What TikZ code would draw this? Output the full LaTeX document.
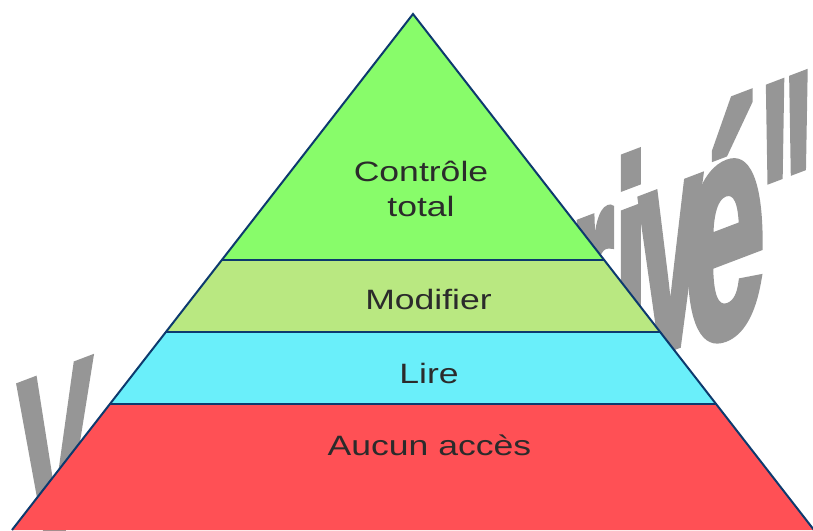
\documentclass[tikz,border=0pt]{standalone}
\usepackage{fontspec}
\setmainfont{Liberation Sans}
\newfontfamily\wmfont{Liberation Sans}[BoldFeatures={FakeBold=3}]
\usetikzlibrary{calc}
\definecolor{wmgray}{RGB}{150,150,150}
\definecolor{pgreen}{RGB}{136,252,106}
\definecolor{plgreen}{RGB}{185,232,129}
\definecolor{pcyan}{RGB}{106,239,250}
\definecolor{pred}{RGB}{255,80,85}
\definecolor{pline}{RGB}{13,58,110}
\definecolor{ptext}{RGB}{43,43,43}
\begin{document}
\begin{tikzpicture}[x=1pt,y=-1pt,
  wm/.style={text=wmgray, font=\wmfont\fontsize{100}{100}\selectfont\bfseries, inner sep=0pt, anchor=base west, yslant=0.38},
  lbl/.style={text=ptext, font=\fontsize{28}{35}\selectfont, inner sep=0pt, xscale=1.27, align=center},
  bandline/.style={draw=pline, line width=1.5pt},
  outline/.style={draw=pline, line width=2pt, line join=miter}]
\useasboundingbox (0,0) rectangle (813,530);
% watermark
\node[wm, xscale=1.12, yscale=2.42] (wV) at (17.5,553) {V};
\node[wm, xscale=1.1, yscale=3.0] (wr) at (571,385) {r};
\node[wm, xscale=1.2, yscale=2.85] (wi) at (614,368) {i};
\node[wm, xscale=1.13, yscale=3.0] (wv) at (639,359) {v};
\node[wm, xscale=1.46, yscale=3.15] (we) at (684,350) {é};
\node[wm, xscale=1.12, yscale=3.6] (wq) at (760,340) {"};
% pyramid
\coordinate (A) at (413,14);
\coordinate (BL) at (12,530);
\coordinate (BR) at (814,530);
\coordinate (L1) at ($(A)!0.4767!(BL)$);
\coordinate (R1) at ($(A)!0.4767!(BR)$);
\coordinate (L2) at ($(A)!0.6163!(BL)$);
\coordinate (R2) at ($(A)!0.6163!(BR)$);
\coordinate (L3) at ($(A)!0.7558!(BL)$);
\coordinate (R3) at ($(A)!0.7558!(BR)$);
\fill[pgreen] (A) -- (R1) -- (L1) -- cycle;
\fill[plgreen] (L1) -- (R1) -- (R2) -- (L2) -- cycle;
\fill[pcyan] (L2) -- (R2) -- (R3) -- (L3) -- cycle;
\fill[pred] (L3) -- (R3) -- (BR) -- (BL) -- cycle;
\draw[bandline] (L1) -- (R1);
\draw[bandline] (L2) -- (R2);
\draw[bandline] (L3) -- (R3);
\draw[outline] (BL) -- (A) -- (BR);
% labels
\node[lbl] (t1) at (421,188.5) {Contrôle\\total};
\node[lbl, anchor=base] (t2) at (428.5,309) {Modifier};
\node[lbl, anchor=base] (t3) at (429,383) {Lire};
\node[lbl, anchor=base] (t4) at (429.5,455) {Aucun accès};
\end{tikzpicture}
\end{document}
